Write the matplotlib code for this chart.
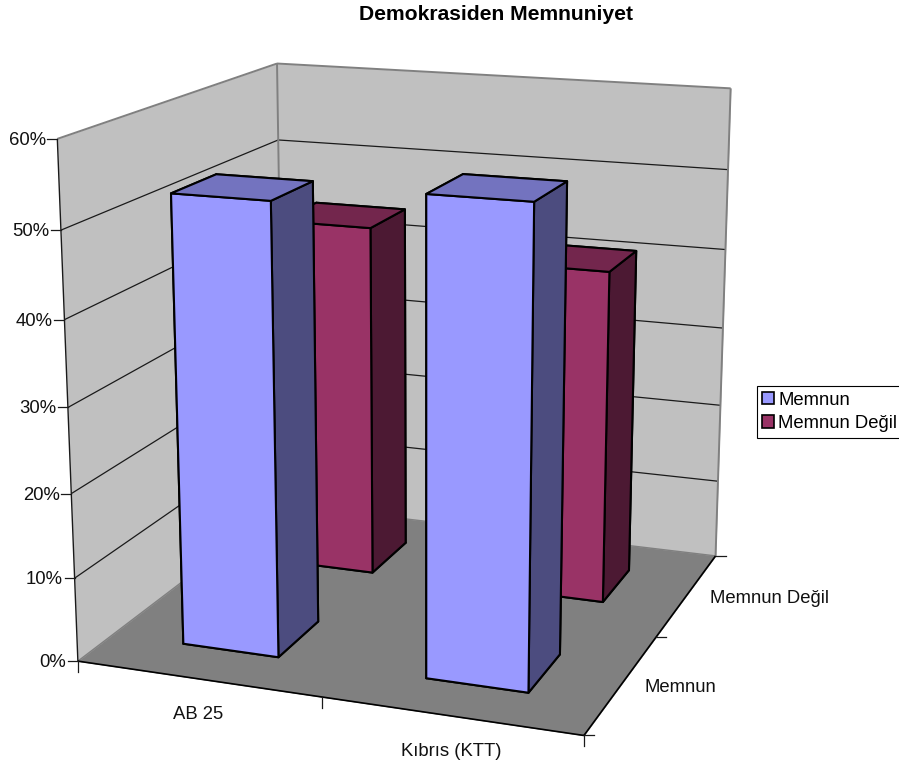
# coding=utf-8
import numpy as np
import matplotlib
matplotlib.use("Agg")
import matplotlib.pyplot as plt
import matplotlib.patches as patches
from matplotlib.lines import Line2D
from mpl_toolkits.mplot3d.art3d import Poly3DCollection, Line3DCollection

plt.rcParams['font.family'] = ['Liberation Sans', 'DejaVu Sans']

WIDTH, HEIGHT = 899, 763

categories = ['AB 25', 'Kıbrıs (KTT)']
series = ['Memnun', 'Memnun Değil']
memnun_values = [0.53, 0.55]
memnun_degil_values = [0.44, 0.41]
value_ticks = [0.0, 0.1, 0.2, 0.3, 0.4, 0.5, 0.6]
value_labels = ['0%', '10%', '20%', '30%', '40%', '50%', '60%']

Z_MAX = value_ticks[-1]
BAR_OFFSET = 0.3
BAR_SIZE = 0.4

# Excel's 3D box as seen on the page: (category, series, value) -> pixel
BOX_CORNERS = [
    ((0, 0, 0.0), (77.3, 661.7)),
    ((2, 0, 0.0), (584.0, 734.3)),
    ((2, 2, 0.0), (715.7, 557.0)),
    ((0, 2, 0.0), (285.0, 503.0)),
    ((0, 0, 0.6), (57.7, 138.7)),
    ((0, 2, 0.6), (276.0, 64.0)),
    ((2, 2, 0.6), (731.3, 88.0)),
    ((0, 0, 0.1), (74.0, 579.0)),
    ((0, 0, 0.5), (61.7, 230.0)),
    ((2, 2, 0.5), (728.0, 169.3)),
    ((2, 2, 0.4), (725.3, 249.7)),
    ((2, 2, 0.3), (722.7, 328.0)),
    ((2, 2, 0.2), (720.0, 405.7)),
]


def fit_camera(corners):
    rows, rhs = [], []
    for (x, y, z), (u, v) in corners:
        v = HEIGHT - v
        rows.append([x, y, z, 1, 0, 0, 0, 0, -u * x, -u * y, -u * z])
        rows.append([0, 0, 0, 0, x, y, z, 1, -v * x, -v * y, -v * z])
        rhs += [u, v]
    h = np.linalg.lstsq(np.array(rows, dtype=float), np.array(rhs), rcond=None)[0]
    return np.append(h, 1.0).reshape(3, 4)


camera = fit_camera(BOX_CORNERS)


def to_display(x, y, z):
    p = camera @ np.array([x, y, z, 1.0])
    return p[0] / p[2], p[1] / p[2]


fig = plt.figure(figsize=(WIDTH / 100, HEIGHT / 100), dpi=100)
ax = fig.add_axes([0, -(WIDTH - HEIGHT) / 2 / HEIGHT, 1, WIDTH / HEIGHT], projection='3d')
ax.set_axis_off()
ax.computed_zorder = False


def fitted_proj():
    to_view = np.linalg.inv(ax.transData.get_affine().get_matrix())
    p = to_view @ camera
    # third row is only a depth for the face sort, nearer faces get lower values
    return np.vstack([p[0], p[1], [-0.3, 1.0, -1.0, 0.0], p[2]])


ax.get_proj = fitted_proj


def wall(corners, color):
    ax.add_collection3d(Poly3DCollection([corners], facecolors=color, edgecolors=color, linewidths=0.3,
                                         zorder=0))


# walls and floor
wall([(0, 0, 0), (0, 2, 0), (0, 2, Z_MAX), (0, 0, Z_MAX)], '#C0C0C0')
wall([(0, 2, 0), (2, 2, 0), (2, 2, Z_MAX), (0, 2, Z_MAX)], '#C0C0C0')
wall([(0, 0, 0), (2, 0, 0), (2, 2, 0), (0, 2, 0)], '#808080')


def lines3d(segments, color, lw):
    ax.add_collection3d(Line3DCollection(segments, colors=color, linewidths=lw, zorder=1))


# grid lines on both walls
grid = []
for tick in value_ticks[1:-1]:
    grid.append([(0, 0, tick), (0, 2, tick)])
    grid.append([(0, 2, tick), (2, 2, tick)])
lines3d(grid, '#1a1a1a', 0.9)

# box edges
lines3d([[(0, 0, Z_MAX), (0, 2, Z_MAX)], [(0, 2, Z_MAX), (2, 2, Z_MAX)],
         [(0, 2, 0), (0, 2, Z_MAX)], [(2, 2, 0), (2, 2, Z_MAX)]], '#808080', 1.4)
lines3d([[(0, 0, 0), (0, 2, 0)], [(0, 2, 0), (2, 2, 0)]], '#808080', 1.0)
lines3d([[(0, 0, 0), (0, 0, Z_MAX)]], '#1a1a1a', 1.0)
lines3d([[(0, 0, 0), (2, 0, 0)], [(2, 0, 0), (2, 2, 0)]], '#000000', 1.2)

# faces: -z, +z, -y, +y, -x, +x
FACE_COLORS = [
    ['#4C4C7F', '#7373BF', '#9999FF', '#9999FF', '#4C4C7F', '#4C4C7F'],
    ['#4C1933', '#73264D', '#993366', '#993366', '#4C1933', '#4C1933'],
]

# back row first, then left to right
order = 2
for row, values in reversed(list(enumerate([memnun_values, memnun_degil_values]))):
    for col, value in enumerate(values):
        bar = ax.bar3d(col + BAR_OFFSET, row + BAR_OFFSET, 0, BAR_SIZE, BAR_SIZE, value,
                       color=FACE_COLORS[row], edgecolor='black', linewidth=1.5, shade=False)
        bar.set_zorder(order)
        order += 1


def page_line(x0, y0, x1, y1):
    fig.add_artist(Line2D([x0 / WIDTH, x1 / WIDTH], [y0 / HEIGHT, y1 / HEIGHT], color='#1a1a1a', lw=0.9))


def page_text(x, y, text, **kwargs):
    fig.text(x / WIDTH, y / HEIGHT, text, fontsize=13.3, color='#111111', va='center', **kwargs)


# value axis
for tick, label in zip(value_ticks, value_labels):
    x, y = to_display(0, 0, tick)
    page_line(x - 10, y, x, y)
    page_text(x - 11.5, y - 1.5, label, ha='right')

# category axis
for i in range(len(categories) + 1):
    x, y = to_display(i, 0, 0)
    page_line(x, y, x, y - 11)
for i, label in enumerate(categories):
    x, y = to_display(i + 0.5, 0, 0)
    page_text(x + 1, y - 35.5, label, ha='center')

# series axis
for i in range(len(series) + 1):
    x, y = to_display(2, i, 0)
    page_line(x, y, x + 10, y)
for i, label in enumerate(series):
    x, y = to_display(2, i + 0.5, 0)
    page_text(x + 23, y - 3.5, label, ha='left')

fig.text(496 / WIDTH, 1 - 15 / HEIGHT, 'Demokrasiden Memnuniyet', fontsize=15.2, fontweight='bold',
         ha='center', va='center', color='black')

handles = [
    patches.Patch(facecolor='#9999FF', edgecolor='black', lw=1.2, label=series[0]),
    patches.Patch(facecolor='#993366', edgecolor='black', lw=1.2, label=series[1]),
]
fig.legend(handles=handles, loc='upper left', bbox_to_anchor=(756.5 / WIDTH, 1 - 386 / HEIGHT),
           fontsize=13.3, frameon=True, fancybox=False, framealpha=1, edgecolor='black',
           borderpad=0.3, borderaxespad=0, handlelength=0.63, handleheight=0.63,
           handletextpad=0.25, labelspacing=0.35).get_frame().set_linewidth(0.8)

fig.savefig('out.png', dpi=100)
